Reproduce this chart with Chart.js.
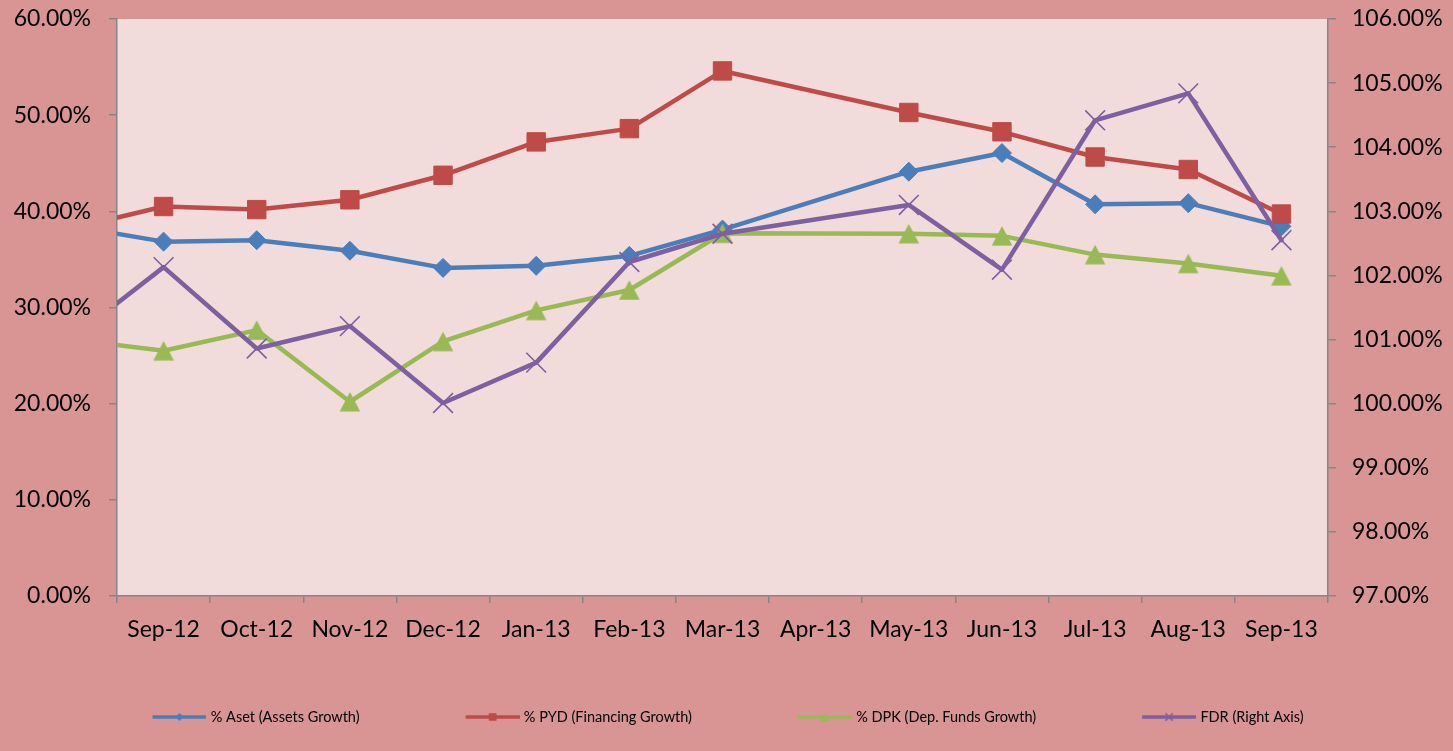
<!DOCTYPE html>
<html>
<head>
<meta charset="utf-8">
<script src="https://cdn.jsdelivr.net/npm/chart.js@4.4.1/dist/chart.umd.min.js"></script>
<style>
  html, body { margin: 0; padding: 0; background: #D99594; }
  #wrap { width: 1453px; height: 751px; }
</style>
</head>
<body>
<div id="wrap"><canvas id="c" width="1453" height="751"></canvas></div>
<script>
// Categories (first entry lies just before the visible window; its line enters from the left edge)
const months = ['Aug-12','Sep-12','Oct-12','Nov-12','Dec-12','Jan-13','Feb-13','Mar-13','Apr-13','May-13','Jun-13','Jul-13','Aug-13','Sep-13'];
const firstVisible = 'Sep-12';

// Series values (%)
const assetGrowth     = [38.5, 36.85, 37.0, 35.9, 34.12, 34.33, 35.37, 38.1, null, 44.12, 46.06, 40.73, 40.85, 38.44];
const financingGrowth = [38.2, 40.5, 40.18, 41.2, 43.75, 47.22, 48.6, 54.6, null, 50.28, 48.27, 45.65, 44.35, 39.72];
const fundsGrowth     = [26.7, 25.5, 27.65, 20.2, 26.47, 29.7, 31.82, 37.72, null, 37.68, 37.45, 35.5, 34.58, 33.3];
const fdr             = [101.0, 102.13, 100.86, 101.21, 100.01, 100.64, 102.21, 102.65, null, 103.1, 102.09, 104.42, 104.84, 102.55];

// Axis tick settings
const leftTicks  = { min: 0, max: 60, step: 10 };
const rightTicks = { min: 97, max: 106, step: 1 };

const seriesNames = ['% Aset (Assets Growth)', '% PYD (Financing Growth)', '% DPK (Dep. Funds Growth)', 'FDR (Right Axis)'];
const colors = ['#4A7EBB', '#BE4B48', '#98B954', '#7D60A0'];

const FONT = 'Lato, "Open Sans", sans-serif';

function makeCanvas(w, h, fn) {
  const cv = document.createElement('canvas');
  cv.width = w; cv.height = h;
  const ctx = cv.getContext('2d');
  fn(ctx, w, h);
  return cv;
}
function drawMarker(ctx, kind, cx, cy, s, color) {
  ctx.fillStyle = color; ctx.strokeStyle = color;
  ctx.beginPath();
  if (kind === 'diamond') {
    ctx.moveTo(cx - s, cy); ctx.lineTo(cx, cy - s); ctx.lineTo(cx + s, cy); ctx.lineTo(cx, cy + s); ctx.closePath(); ctx.fill();
  } else if (kind === 'square') {
    ctx.rect(cx - s, cy - s, 2 * s, 2 * s); ctx.fill();
  } else if (kind === 'triangle') {
    ctx.moveTo(cx, cy - s); ctx.lineTo(cx + s * 1.05, cy + s); ctx.lineTo(cx - s * 1.05, cy + s); ctx.closePath(); ctx.fill();
  } else if (kind === 'x') {
    ctx.lineWidth = 1.5;
    ctx.moveTo(cx - s, cy - s); ctx.lineTo(cx + s, cy + s);
    ctx.moveTo(cx + s, cy - s); ctx.lineTo(cx - s, cy + s); ctx.stroke();
  }
}
const markerKinds = ['diamond', 'square', 'triangle', 'x'];

// triangle marker image (box-centred like Excel)
const triImg = makeCanvas(24, 22, (ctx) => drawMarker(ctx, 'triangle', 12, 11, 9.8, colors[2]));

// legend images: line + small marker (image is 6px wider than the box, line sits in its right 54px)
const LEG_BOX = 54;
const legendImgs = markerKinds.map((k, i) => makeCanvas(LEG_BOX + 6, 14, (ctx, w, h) => {
  ctx.strokeStyle = colors[i]; ctx.lineWidth = 3.5; ctx.lineCap = 'butt';
  ctx.beginPath(); ctx.moveTo(w - LEG_BOX, 7); ctx.lineTo(w, 7); ctx.stroke();
  const sz = { diamond: 4, square: 3.8, triangle: 4.2, x: 3.6 }[k];
  drawMarker(ctx, k, w - LEG_BOX / 2, 7, sz, colors[i]);
}));

const bgPlugin = {
  id: 'bg',
  beforeDraw(chart) {
    const { ctx, chartArea: a } = chart;
    ctx.save();
    ctx.fillStyle = '#D99594';
    ctx.fillRect(0, 0, chart.width, chart.height);
    ctx.fillStyle = '#F2DCDB';
    ctx.fillRect(a.left, a.top, a.right - a.left, a.bottom - a.top);
    ctx.restore();
  }
};

const axisGrey = '#868686';
const tickFont = { family: FONT, size: 23 };

new Chart(document.getElementById('c'), {
  type: 'line',
  data: {
    labels: months,
    datasets: [
      { label: seriesNames[0], data: assetGrowth, yAxisID: 'y', order: 4,
        borderColor: colors[0], backgroundColor: colors[0], borderWidth: 4.5,
        pointStyle: 'rectRot', pointRadius: 9.5, pointBorderWidth: 1, pointBackgroundColor: colors[0], pointBorderColor: colors[0] },
      { label: seriesNames[1], data: financingGrowth, yAxisID: 'y', order: 3,
        borderColor: colors[1], backgroundColor: colors[1], borderWidth: 4.5,
        pointStyle: 'rect', pointRadius: 13, pointBorderWidth: 1, pointBackgroundColor: colors[1], pointBorderColor: colors[1] },
      { label: seriesNames[2], data: fundsGrowth, yAxisID: 'y', order: 2,
        borderColor: colors[2], backgroundColor: colors[2], borderWidth: 4.5,
        pointStyle: triImg, pointRadius: 11 },
      { label: seriesNames[3], data: fdr, yAxisID: 'y1', order: 1,
        borderColor: colors[3], backgroundColor: colors[3], borderWidth: 4.5,
        pointStyle: 'crossRot', pointRadius: 14, pointBorderWidth: 1.6, pointBorderColor: colors[3] }
    ]
  },
  options: {
    responsive: false,
    animation: false,
    spanGaps: true,
    layout: { padding: { top: 19, left: 0, right: 0, bottom: 16.75 } },
    elements: { line: { tension: 0, borderCapStyle: 'round', borderJoinStyle: 'round' } },
    plugins: {
      tooltip: { enabled: false },
      legend: {
        position: 'bottom',
        labels: {
          usePointStyle: true,
          pointStyleWidth: LEG_BOX,
          padding: 103,
          color: '#000000',
          font: { family: FONT, size: 14.5 },
          generateLabels: () => seriesNames.map((t, i) => ({
            text: t, pointStyle: legendImgs[i], fillStyle: colors[i], strokeStyle: colors[i],
            lineWidth: 0, hidden: false, datasetIndex: i, fontColor: '#000000'
          }))
        }
      }
    },
    scales: {
      x: {
        type: 'category',
        min: firstVisible,
        offset: true,
        grid: { display: true, offset: true, drawOnChartArea: false, drawTicks: true, tickLength: 7, color: axisGrey, lineWidth: 1.5 },
        border: { display: true, color: axisGrey, width: 1.5 },
        ticks: { color: '#000000', font: tickFont, mirror: true, padding: -47.5, maxRotation: 0, autoSkip: false },
        afterFit: (s) => { s.height = 10.75; s.paddingLeft = 0; s.paddingRight = 0; }
      },
      y: {
        position: 'left',
        min: leftTicks.min, max: leftTicks.max,
        grid: { drawOnChartArea: false, drawTicks: true, tickLength: 8, color: axisGrey, lineWidth: 1.5 },
        border: { display: true, color: axisGrey, width: 1.5 },
        ticks: { stepSize: leftTicks.step, color: '#000000', font: tickFont, padding: 18,
                 callback: (v) => v.toFixed(2) + '%' },
        afterFit: (s) => { s.width = 117; s.paddingTop = 0; s.paddingBottom = 0; }
      },
      y1: {
        position: 'right',
        min: rightTicks.min, max: rightTicks.max,
        grid: { drawOnChartArea: false, drawTicks: true, tickLength: 8, color: axisGrey, lineWidth: 1.5 },
        border: { display: true, color: axisGrey, width: 1.5 },
        ticks: { stepSize: rightTicks.step, color: '#000000', font: tickFont, padding: 16,
                 callback: (v) => v.toFixed(2) + '%' },
        afterFit: (s) => { s.width = 125; s.paddingTop = 0; s.paddingBottom = 0; }
      }
    }
  },
  plugins: [bgPlugin]
});
</script>
</body>
</html>
